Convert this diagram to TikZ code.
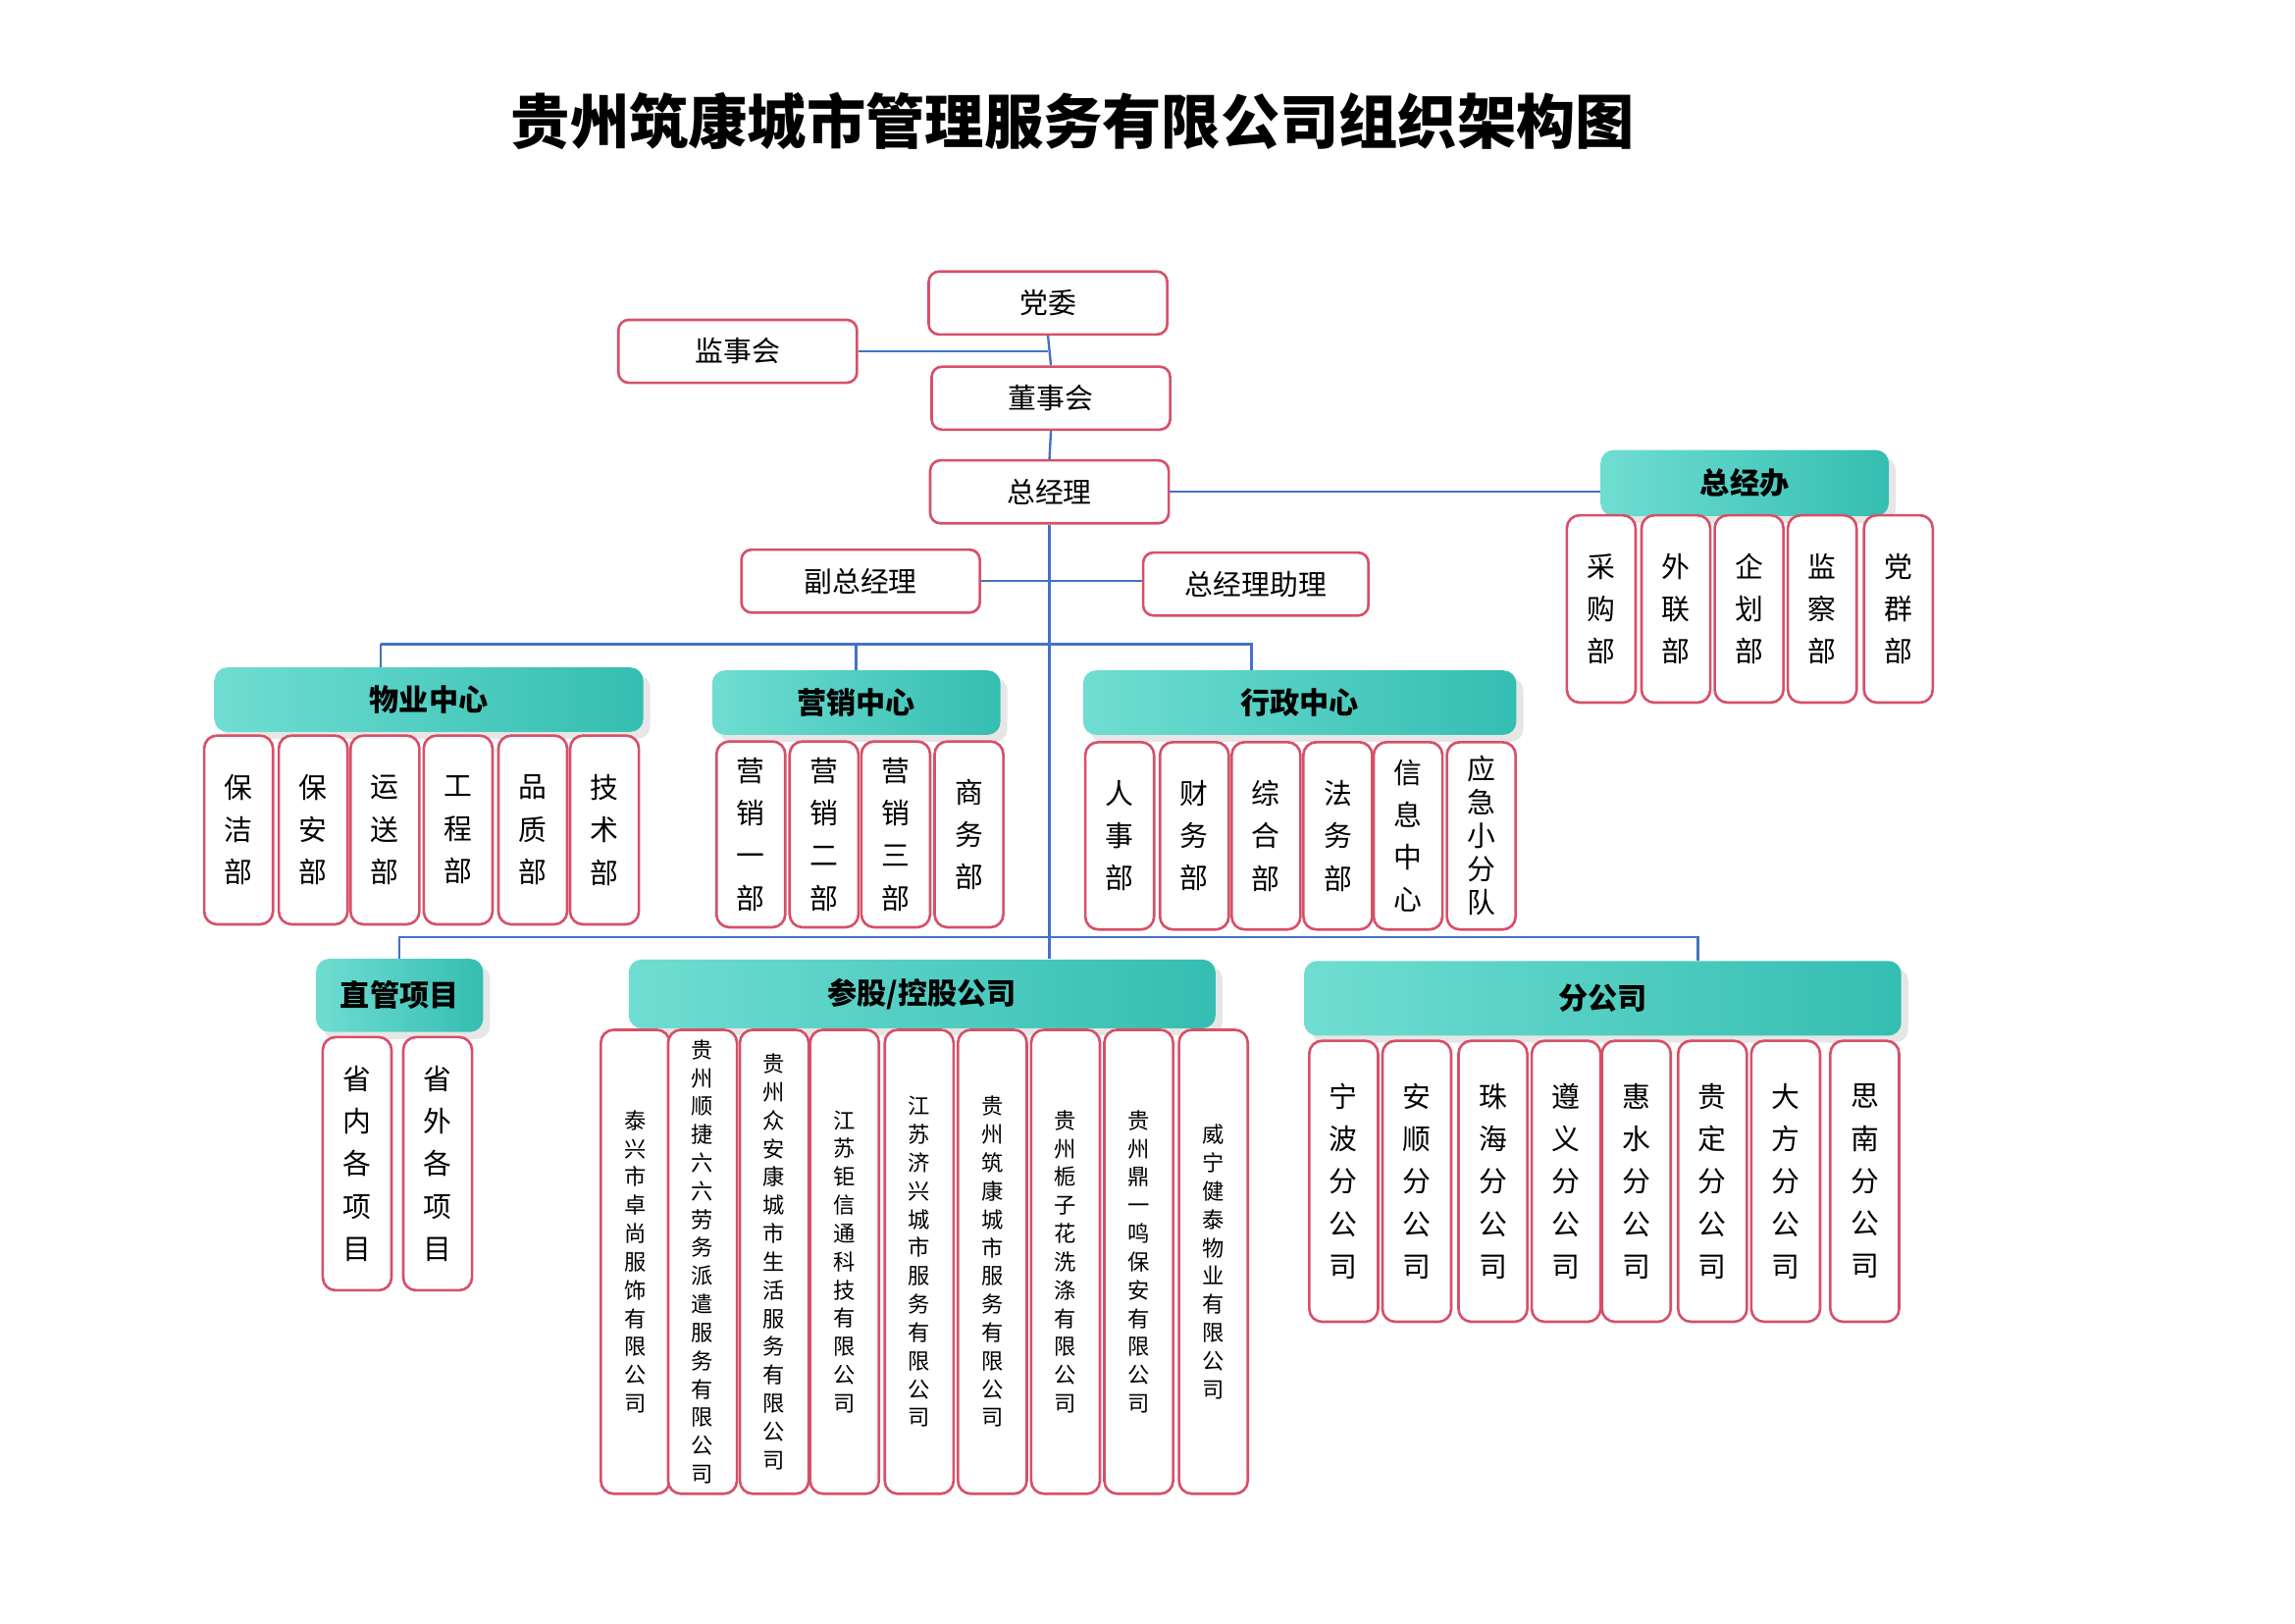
\documentclass[tikz,border=0pt]{standalone}
\usepackage{fontspec}
\setmainfont{Noto Sans CJK SC}
\usetikzlibrary{positioning,shadows}
\XeTeXlinebreaklocale "zh"
\XeTeXlinebreakskip=0pt plus 1pt
\definecolor{boxRed}{RGB}{214,80,104}
\definecolor{lineBlue}{RGB}{68,114,196}
\definecolor{tealA}{RGB}{112,221,210}
\definecolor{tealB}{RGB}{52,190,177}
\tikzset{
  box/.style={draw=boxRed,line width=1pt,rounded corners=4pt,fill=white,
    minimum width=3.26cm,minimum height=0.86cm,font=\fontsize{11}{13}\selectfont},
  head/.style={rounded corners=5pt,left color=tealA,right color=tealB,
    drop shadow={opacity=.2},font=\fontsize{11.5}{13}\selectfont\bfseries},
  sub/.style={draw=boxRed,line width=1pt,rounded corners=5pt,fill=white,
    minimum width=0.94cm,text width=1.1em,align=center,inner sep=0pt,
    font=\fontsize{11}{16.5}\selectfont},
  csub/.style={sub,text width=1em,minimum height=6.34cm,font=\fontsize{8.5}{11}\selectfont},
  link/.style={draw=lineBlue,line width=0.9pt}
}
\begin{document}
\begin{tikzpicture}[x=0.02cm,y=-0.02cm]
\useasboundingbox (0,0) rectangle (1568,1109);
\node[font=\fontsize{23}{26}\selectfont\bfseries] (title) at (733,83) {贵州筑康城市管理服务有限公司组织架构图};

% top
\node[box] (dw) at (716,207) {党委};
\node[box] (jsh) at (504,240) {监事会};
\node[box] (dsh) at (718,272) {董事会};
\node[box] (zjl) at (717,336) {总经理};
\node[box] (fzjl) at (588,397) {副总经理};
\node[box,minimum width=3.08cm] (zl) at (858,399) {总经理助理};

% general office
\node[head,minimum width=3.94cm,minimum height=0.9cm] (zjb) at (1192,330) {总经办};
\node[sub,minimum height=2.56cm] (cgb) at (1094,416) {采购部};
\node[sub,minimum height=2.56cm] (wlb) at (1145,416) {外联部};
\node[sub,minimum height=2.56cm] (qhb) at (1195,416) {企划部};
\node[sub,minimum height=2.56cm] (jcb) at (1245,416) {监察部};
\node[sub,minimum height=2.56cm] (dqb) at (1297,416) {党群部};

% centers
\node[head,minimum width=5.86cm,minimum height=0.88cm] (wy) at (293,478) {物业中心};
\node[sub,minimum height=2.58cm] (wy1) at (163,567) {保洁部};
\node[sub,minimum height=2.58cm] (wy2) at (214,567) {保安部};
\node[sub,minimum height=2.58cm] (wy3) at (263,567) {运送部};
\node[sub,minimum height=2.58cm] (wy4) at (313,567) {工程部};
\node[sub,minimum height=2.58cm] (wy5) at (364,567) {品质部};
\node[sub,minimum height=2.58cm] (wy6) at (413,567) {技术部};

\node[head,minimum width=3.94cm,minimum height=0.88cm] (yx) at (585,480) {营销中心};
\node[sub,minimum height=2.54cm] (yx1) at (513,570) {营销一部};
\node[sub,minimum height=2.54cm] (yx2) at (563,570) {营销二部};
\node[sub,minimum height=2.54cm] (yx3) at (612,570) {营销三部};
\node[sub,minimum height=2.54cm] (yx4) at (662,570) {商务部};

\node[head,minimum width=5.92cm,minimum height=0.88cm] (xz) at (888,480) {行政中心};
\node[sub,minimum height=2.56cm] (xz1) at (765,571) {人事部};
\node[sub,minimum height=2.56cm] (xz2) at (816,571) {财务部};
\node[sub,minimum height=2.56cm] (xz3) at (865,571) {综合部};
\node[sub,minimum height=2.56cm] (xz4) at (914,571) {法务部};
\node[sub,minimum height=2.56cm] (xz5) at (962,571) {信息中心};
\node[sub,minimum height=2.56cm,font=\fontsize{11}{13}\selectfont] (xz6) at (1012,571) {应急小分队};

% lower row
\node[head,minimum width=2.28cm,minimum height=1cm] (zg) at (273,680) {直管项目};
\node[sub,minimum height=3.46cm] (zg1) at (244,795) {省内各项目};
\node[sub,minimum height=3.46cm] (zg2) at (299,795) {省外各项目};

\node[head,minimum width=8.02cm,minimum height=0.94cm] (cg) at (630,679) {参股/控股公司};
\node[csub] (cg1) at (434,862) {泰兴市卓尚服饰有限公司};
\node[csub] (cg2) at (480,862) {贵州顺捷六六劳务派遣服务有限公司};
\node[csub] (cg3) at (529,862) {贵州众安康城市生活服务有限公司};
\node[csub] (cg4) at (577,862) {江苏钜信通科技有限公司};
\node[csub] (cg5) at (628,862) {江苏济兴城市服务有限公司};
\node[csub] (cg6) at (678,862) {贵州筑康城市服务有限公司};
\node[csub] (cg7) at (728,862) {贵州栀子花洗涤有限公司};
\node[csub] (cg8) at (778,862) {贵州鼎一鸣保安有限公司};
\node[csub] (cg9) at (829,862) {威宁健泰物业有限公司};

\node[head,minimum width=8.16cm,minimum height=1.02cm] (fgs) at (1095,682) {分公司};
\node[sub,minimum height=3.84cm] (fg1) at (918,807) {宁波分公司};
\node[sub,minimum height=3.84cm] (fg2) at (968,807) {安顺分公司};
\node[sub,minimum height=3.84cm] (fg3) at (1020,807) {珠海分公司};
\node[sub,minimum height=3.84cm] (fg4) at (1070,807) {遵义分公司};
\node[sub,minimum height=3.84cm] (fg5) at (1118,807) {惠水分公司};
\node[sub,minimum height=3.84cm] (fg6) at (1170,807) {贵定分公司};
\node[sub,minimum height=3.84cm] (fg7) at (1220,807) {大方分公司};
\node[sub,minimum height=3.84cm] (fg8) at (1274,807) {思南分公司};

% buses
\coordinate (busA) at (260,440);
\coordinate (busB) at (855,440);
\coordinate (busC) at (273,640);
\coordinate (busD) at (1160,640);

\draw[link] (dw.south) -- (dsh.north);
\draw[link] (dsh.south) -- (zjl.north);
\draw[link] (jsh.east) -- (jsh.east -| dw.south);
\draw[link] (zjl.south) -- (zjl.south |- cg.north);
\draw[link] (fzjl.east) -- (fzjl.east -| zl.west);
\draw[link] (zjl.east) -- (zjl.east -| zjb.west);
\draw[link] (busA) -- (busB) -- (busB |- xz.north);
\draw[link] (busA) -- (busA |- wy.north);
\draw[link] (busA -| yx.north) -- (yx.north);
\draw[link] (busC |- zg.north) -- (busC) -- (busD) -- (busD |- fgs.north);
\end{tikzpicture}
\end{document}
